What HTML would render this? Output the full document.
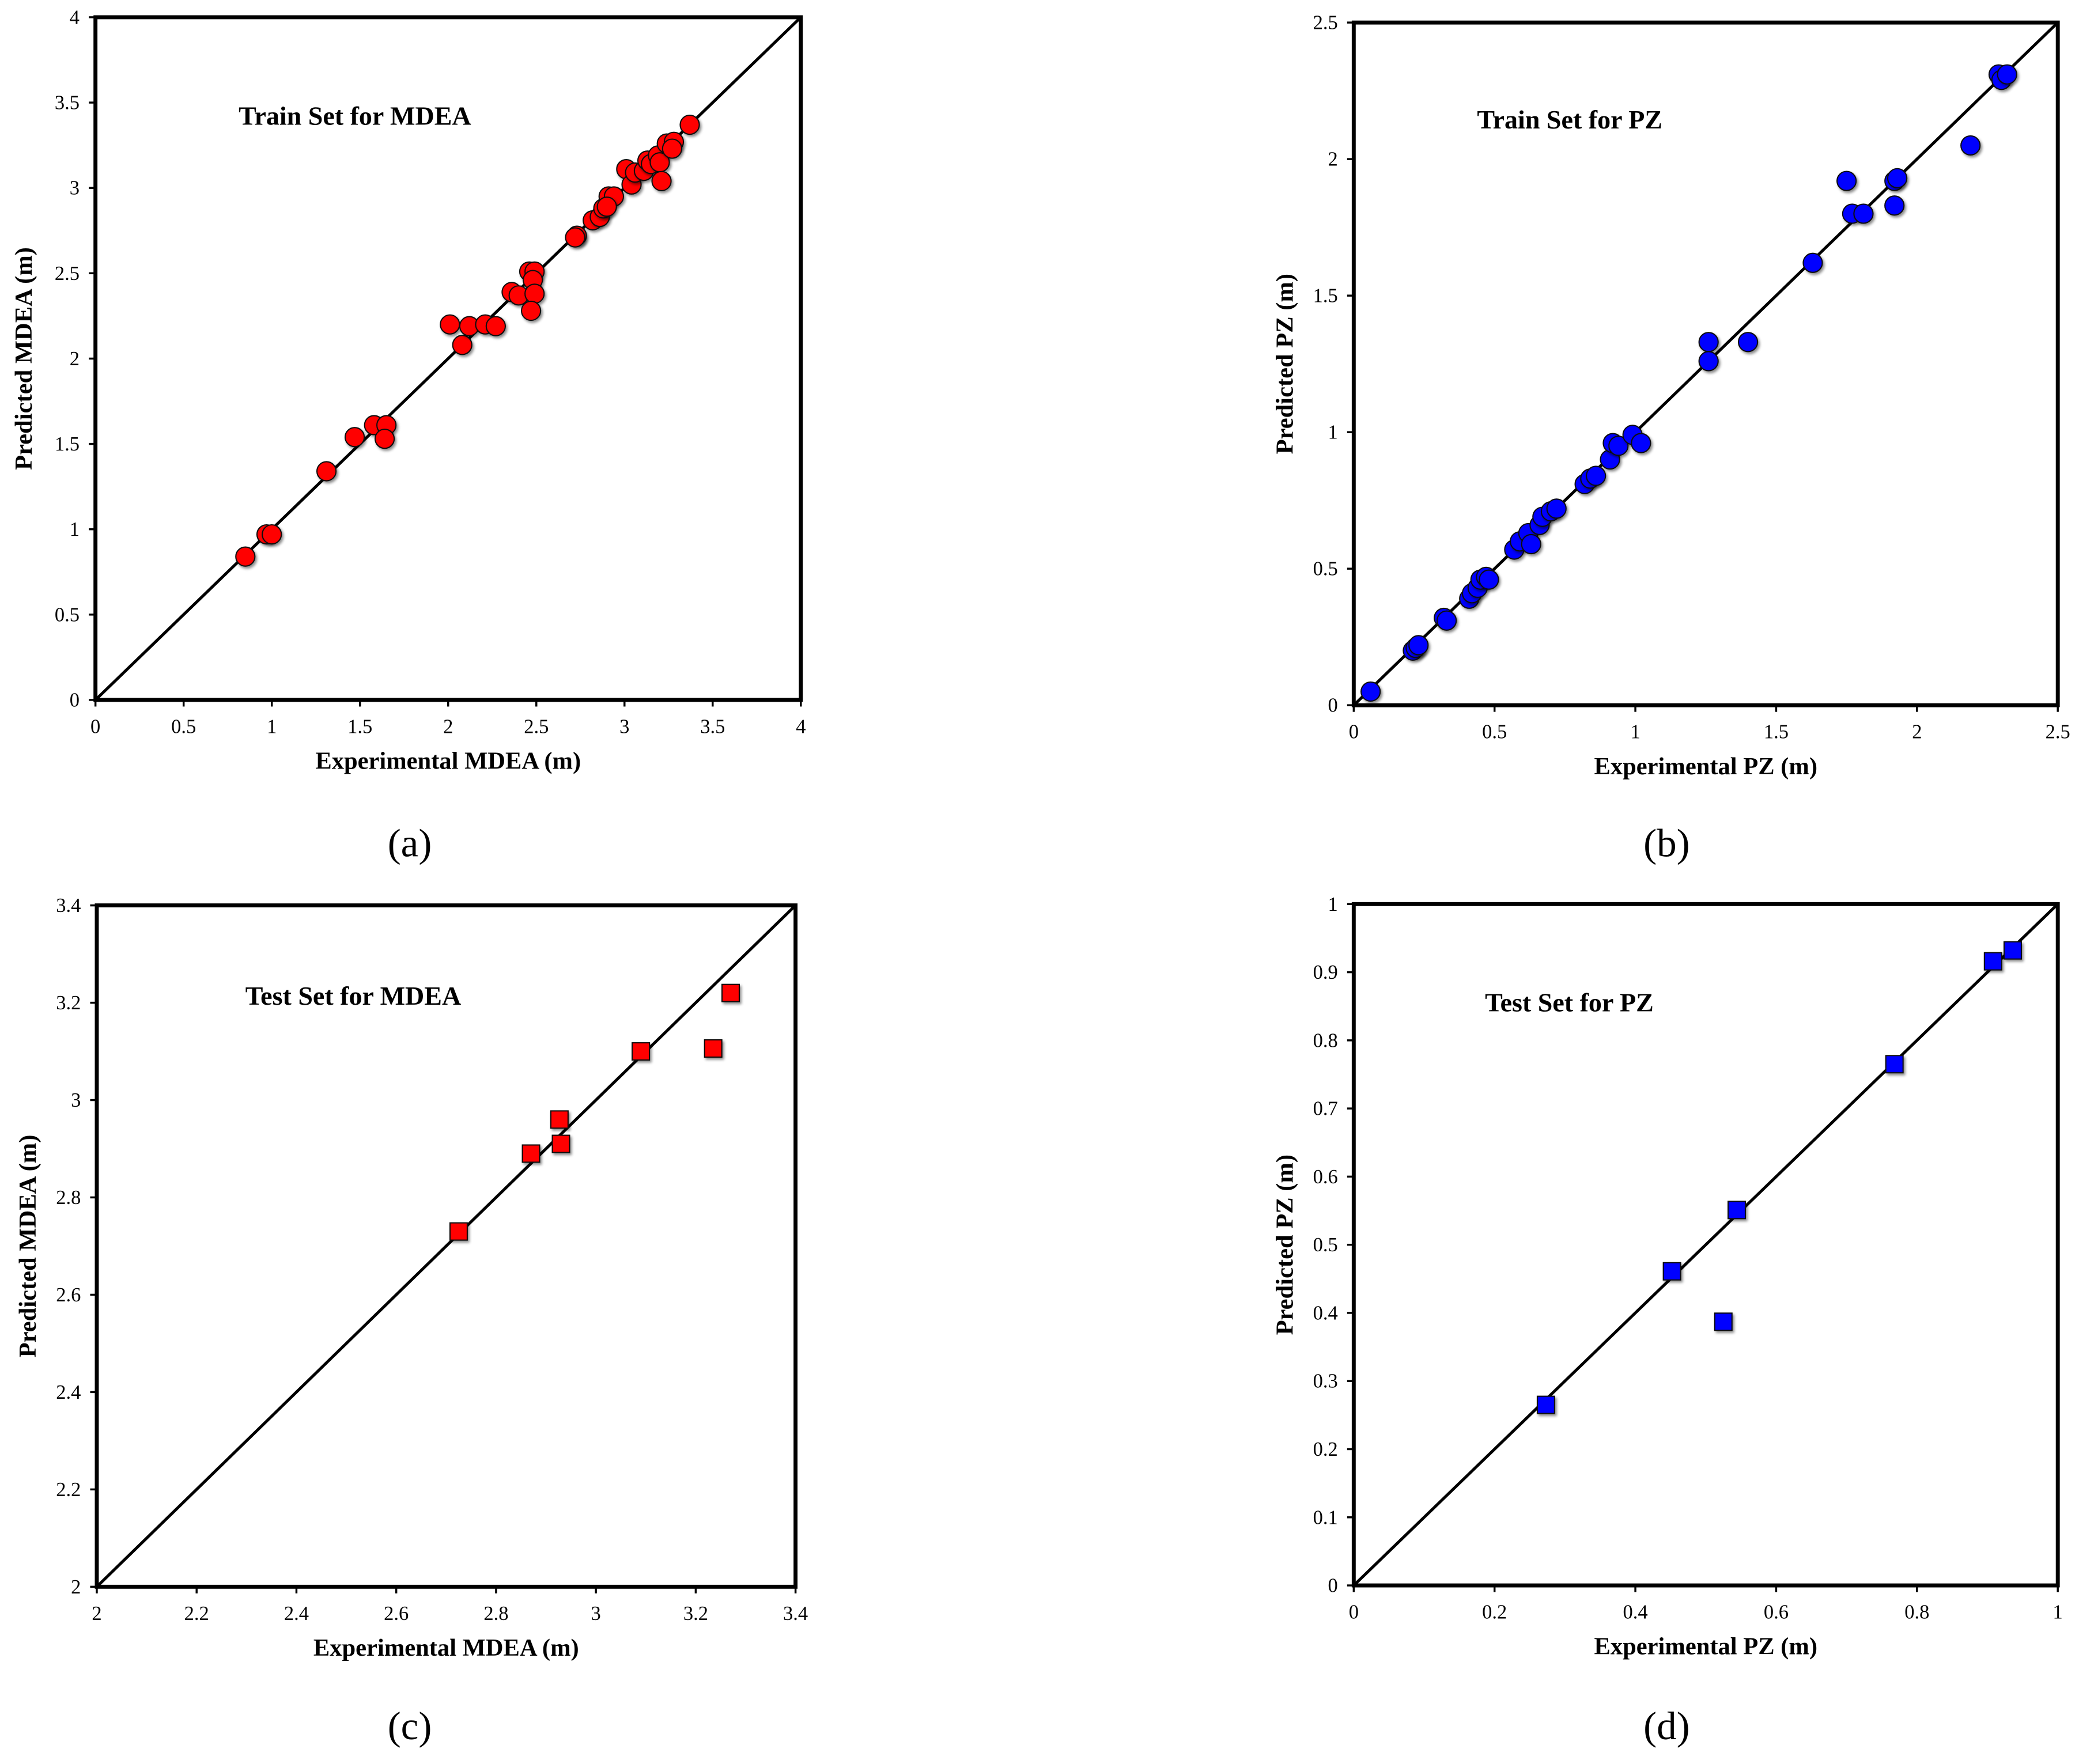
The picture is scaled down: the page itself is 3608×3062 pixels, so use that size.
<!DOCTYPE html>
<html><head><meta charset="utf-8"><style>
html,body{margin:0;padding:0;background:#fff;}
svg{display:block;}
text{font-family:"Liberation Serif",serif;fill:#000;}
</style></head><body>
<svg id="fig" width="3608" height="3062" viewBox="0 0 1568 1330.7" xmlns="http://www.w3.org/2000/svg">
<defs>
<filter id="sh" x="-50%" y="-50%" width="200%" height="200%"><feDropShadow dx="1.2" dy="1.5" stdDeviation="1" flood-color="#000" flood-opacity="0.45"/></filter>
</defs>
</svg>
<script>
// Panel (a) Train MDEA
const aExp=[0.85,0.97,1.0,1.31,1.47,1.58,1.65,1.64,2.01,2.08,2.12,2.21,2.27,2.36,2.4,2.46,2.49,2.48,2.49,2.47,2.73,2.72,2.82,2.86,2.88,2.91,2.94,2.9,3.01,3.04,3.06,3.11,3.13,3.15,3.19,3.2,3.21,3.24,3.28,3.27,3.37];
const aPred=[0.84,0.97,0.97,1.34,1.54,1.61,1.61,1.53,2.2,2.08,2.19,2.2,2.19,2.39,2.37,2.51,2.51,2.46,2.38,2.28,2.72,2.71,2.81,2.83,2.88,2.95,2.95,2.89,3.11,3.02,3.09,3.1,3.16,3.14,3.19,3.15,3.04,3.26,3.27,3.23,3.37];
const aTicks=["0","0.5","1","1.5","2","2.5","3","3.5","4"];
// Panel (b) Train PZ
const bExp=[0.06,0.21,0.22,0.23,0.32,0.33,0.41,0.42,0.44,0.45,0.47,0.48,0.57,0.59,0.62,0.63,0.66,0.67,0.7,0.72,0.82,0.84,0.86,0.91,0.92,0.94,0.99,1.02,1.26,1.26,1.4,1.63,1.75,1.77,1.81,1.92,1.93,1.92,2.19,2.29,2.3,2.32];
const bPred=[0.05,0.2,0.21,0.22,0.32,0.31,0.39,0.41,0.43,0.46,0.47,0.46,0.57,0.6,0.63,0.59,0.66,0.69,0.71,0.72,0.81,0.83,0.84,0.9,0.96,0.95,0.99,0.96,1.33,1.26,1.33,1.62,1.92,1.8,1.8,1.92,1.93,1.83,2.05,2.31,2.29,2.31];
const bTicks=["0","0.5","1","1.5","2","2.5"];
// Panel (c) Test MDEA
const cExp=[2.725,2.87,2.927,2.93,3.09,3.235,3.27];
const cPred=[2.73,2.89,2.96,2.91,3.10,3.106,3.22];
const cTicks=["2","2.2","2.4","2.6","2.8","3","3.2","3.4"];
// Panel (d) Test PZ
const dExp=[0.273,0.452,0.544,0.525,0.768,0.908,0.936];
const dPred=[0.265,0.461,0.551,0.387,0.765,0.916,0.932];
const dXTicks=["0","0.2","0.4","0.6","0.8","1"];
const dYTicks=["0","0.1","0.2","0.3","0.4","0.5","0.6","0.7","0.8","0.9","1"];

const NS="http://www.w3.org/2000/svg";
const svg=document.getElementById('fig');
function mk(tag,attrs,parent){const e=document.createElementNS(NS,tag);for(const k in attrs)e.setAttribute(k,attrs[k]);(parent||svg).appendChild(e);return e;}

const panels=[
 {id:'a',x0:72,x1:604,y0:528,y1:13,xt:aTicks,yt:aTicks,xs:aExp,ys:aPred,color:'#ff0000',shape:'circle',title:'Train Set for MDEA',tx:180,ty:94,xl:'Experimental  MDEA (m)',yl:'Predicted MDEA (m)',ylx:24,lab:'(a)',labx:309,laby:646},
 {id:'b',x0:1021,x1:1552,y0:532,y1:17,xt:bTicks,yt:bTicks,xs:bExp,ys:bPred,color:'#0000ff',shape:'circle',title:'Train Set for PZ',tx:1114,ty:97,xl:'Experimental  PZ (m)',yl:'Predicted PZ (m)',ylx:975,lab:'(b)',labx:1257,laby:646},
 {id:'c',x0:73,x1:600,y0:1197,y1:683,xt:cTicks,yt:cTicks,xs:cExp,ys:cPred,color:'#ff0000',shape:'square',title:'Test Set for MDEA',tx:185,ty:758,xl:'Experimental  MDEA (m)',yl:'Predicted MDEA (m)',ylx:27,lab:'(c)',labx:309,laby:1312},
 {id:'d',x0:1021,x1:1552,y0:1196,y1:682,xt:dXTicks,yt:dYTicks,xs:dExp,ys:dPred,color:'#0000ff',shape:'square',title:'Test Set for PZ',tx:1120,ty:763,xl:'Experimental  PZ (m)',yl:'Predicted PZ (m)',ylx:975,lab:'(d)',labx:1257,laby:1312}
];

panels.forEach(p=>{
 const g=mk('g',{});
 
 
 const xmin=parseFloat(p.xt[0]), xmax=parseFloat(p.xt[p.xt.length-1]);
 const ymin=parseFloat(p.yt[0]), ymax=parseFloat(p.yt[p.yt.length-1]);
 const sx=v=>p.x0+(v-xmin)/(xmax-xmin)*(p.x1-p.x0);
 const sy=v=>p.y0+(v-ymin)/(ymax-ymin)*(p.y1-p.y0);
 const dl=mk('line',{x1:sx(xmin),y1:sy(ymin),x2:sx(xmax),y2:sy(ymax),stroke:'#000','stroke-width':2.2},g);
 
 
 p.xs.forEach((xv,i)=>{
  let m;
  if(p.shape==='circle') m=mk('circle',{cx:sx(xv),cy:sy(p.ys[i]),r:7.2,fill:p.color,stroke:'#111','stroke-width':0.9,filter:'url(#sh)'},g);
  else m=mk('rect',{x:sx(xv)-6.5,y:sy(p.ys[i])-6.5,width:13,height:13,fill:p.color,stroke:'#111','stroke-width':0.9,filter:'url(#sh)'},g);
  
  
 });
 const fr=mk('rect',{x:p.x0,y:p.y1,width:p.x1-p.x0,height:p.y0-p.y1,fill:'none',stroke:'#000','stroke-width':3},g);
 
 
 p.xt.forEach(t=>{
  const v=parseFloat(t);
  mk('line',{x1:sx(v),y1:p.y0,x2:sx(v),y2:p.y0+5,stroke:'#000','stroke-width':1.5},g);
  const xt=mk('text',{x:sx(v),y:p.y0+25,'font-size':15,'text-anchor':'middle',fill:'#333'},g);
  xt.textContent=t;
  
  
 });
 p.yt.forEach(t=>{
  const v=parseFloat(t);
  mk('line',{x1:p.x0-5,y1:sy(v),x2:p.x0,y2:sy(v),stroke:'#000','stroke-width':1.5},g);
  const yt=mk('text',{x:p.x0-12,y:sy(v)+5,'font-size':15,'text-anchor':'end',fill:'#333'},g);
  yt.textContent=t;
  
  
 });
 const ti=mk('text',{x:p.tx,y:p.ty,'font-size':20,'font-weight':'bold'},g);
 ti.textContent=p.title;
 
 
 const xl=mk('text',{x:(p.x0+p.x1)/2,y:p.y0+52,'font-size':18.5,'font-weight':'bold','text-anchor':'middle','xml:space':'preserve'},g);
 xl.textContent=p.xl;
 
 
 const ym=(p.y0+p.y1)/2;
 const yl=mk('text',{x:p.ylx,y:ym,'font-size':18.5,'font-weight':'bold','text-anchor':'middle',transform:'rotate(-90 '+p.ylx+' '+ym+')'},g);
 yl.textContent=p.yl;
 
 
 const lb=mk('text',{x:p.labx,y:p.laby,'font-size':30,'text-anchor':'middle'},g);
 lb.textContent=p.lab;
 
 
});
</script>
</body></html>
